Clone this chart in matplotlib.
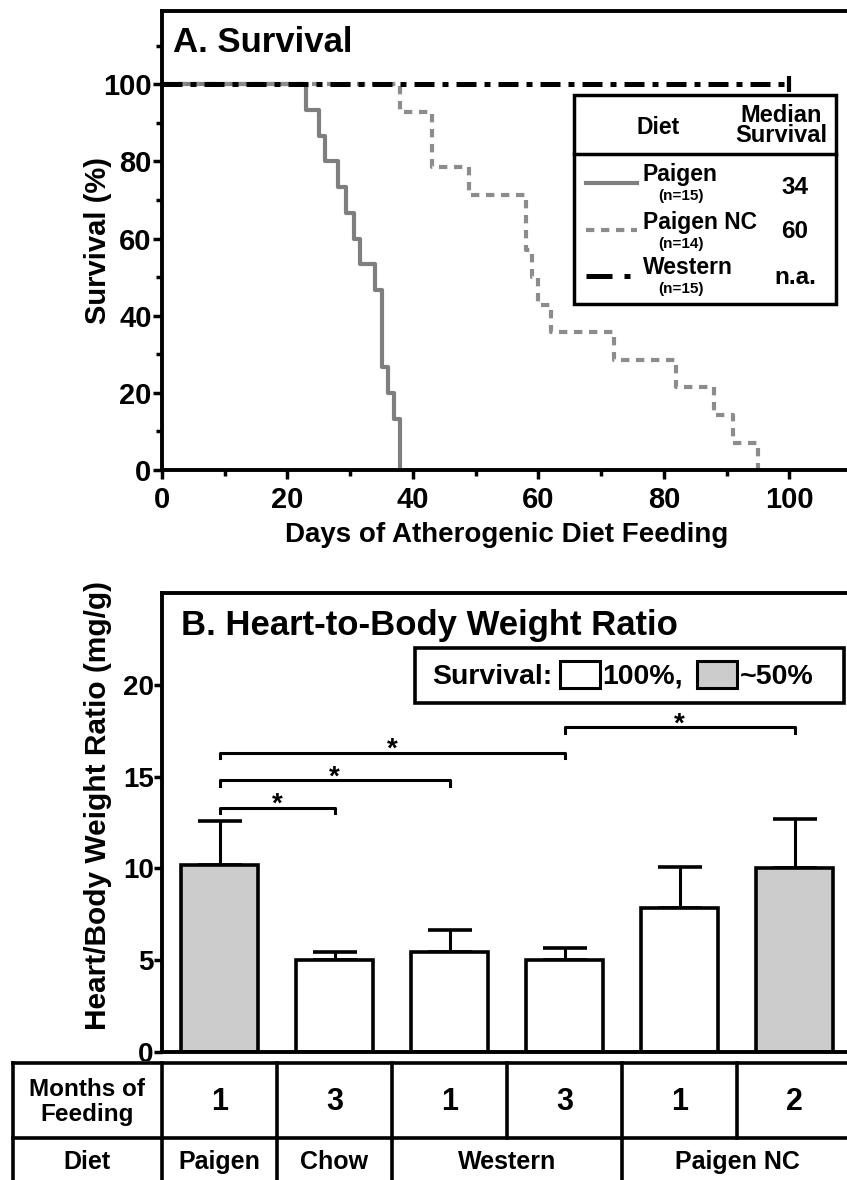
import matplotlib
matplotlib.use('Agg')
import matplotlib.pyplot as plt
from matplotlib.patches import Rectangle
from matplotlib.lines import Line2D
from matplotlib.transforms import Affine2D
import numpy as np

plt.rcParams['font.family'] = ['Liberation Sans', 'DejaVu Sans']
plt.rcParams['font.weight'] = 'bold'

# A. survival curves (step points)
paigen_days = [0, 23, 25, 26, 28, 29.3, 30.6, 31.5, 34, 35, 36, 37, 38]
paigen_surv = [100, 93.3, 86.7, 80, 73.3, 66.7, 60, 53.3, 46.7, 26.7, 20, 13.3, 0]
nc_days = [0, 38, 43, 49, 58, 59, 60, 62, 72, 82, 88, 91, 95]
nc_surv = [100, 92.9, 78.6, 71.4, 57.1, 50, 42.9, 35.7, 28.6, 21.4, 14.3, 7.1, 0]
western_days = [0, 100]
western_surv = [100, 100]
leg_names = ['Paigen', 'Paigen NC', 'Western']
leg_n = ['(n=15)', '(n=14)', '(n=15)']
leg_median = ['34', '60', 'n.a.']

# B. heart-to-body weight ratio
months = ['1', '3', '1', '3', '1', '2']
ratio = [10.2, 5.0, 5.45, 5.0, 7.85, 10.0]
sem = [2.4, 0.45, 1.2, 0.65, 2.2, 2.7]
half_survival = [True, False, False, False, False, True]
diets = ['Paigen', 'Chow', 'Western', 'Paigen NC']
diet_span = [1, 1, 2, 2]
sig_pairs = [(0, 1), (0, 2), (0, 3), (3, 5)]
sig_y = [13.3, 14.8, 16.3, 17.7]

W, H = 847, 1180
fig = plt.figure(figsize=(W / 100, H / 100), dpi=100)
# pixel coords, origin top-left
pix = Affine2D().scale(1 / W, -1 / H).translate(0, 1) + fig.transFigure


def add_ax(l, t, r, b):
    return fig.add_axes([l / W, 1 - b / H, (r - l) / W, (b - t) / H])


LW = 2.8
GRAY = '#cccccc'

# ---------------- panel A
axA = add_ax(162, 11, 852, 470)
axA.step(paigen_days, paigen_surv, where='post', color='#7f7f7f', lw=3, zorder=2)
axA.step(nc_days, nc_surv, where='post', color='#8c8c8c', lw=3, dashes=(2, 1.6), zorder=2)
axA.plot(western_days, western_surv, color='black', lw=3.6, dashes=(4, 1.6, 1.2, 1.6),
         zorder=3, clip_on=False)
axA.plot(western_days[-1], western_surv[-1], marker='|', ms=11, mew=3, color='black',
         clip_on=False, zorder=3)
axA.set_xlim(0, 110)
axA.set_ylim(0, 119)
axA.set_xticks(range(0, 101, 20))
axA.set_xticks(range(10, 111, 20), minor=True)
axA.set_yticks(range(0, 101, 20))
axA.set_yticks(range(10, 111, 20), minor=True)
axA.tick_params(which='major', length=6.5, width=2.5, labelsize=21)
axA.tick_params(axis='y', which='major', pad=1)
axA.tick_params(axis='x', which='major', pad=5)
axA.tick_params(which='minor', length=4, width=2.5)
for s in axA.spines.values():
    s.set_linewidth(LW)
axA.spines['right'].set_visible(False)
axA.set_xlabel('Days of Atherogenic Diet Feeding', fontsize=20, fontweight='bold')
axA.xaxis.label.set_va('center')
axA.xaxis.set_label_coords(0.5, -0.142)
axA.set_ylabel('Survival (%)', fontsize=21, fontweight='bold')
axA.yaxis.label.set_va('center')
axA.yaxis.set_label_coords(-0.093, 0.5)
fig.text(173, 42, 'A. Survival', transform=pix, va='center', fontsize=25)

# legend table of panel A
fig.add_artist(Rectangle((574, 95), 262, 209, transform=pix, fc='white', ec='black', lw=2.5))
fig.add_artist(Line2D([574, 836], [154, 154], transform=pix, color='black', lw=2.5))
fig.text(658, 127, 'Diet', transform=pix, ha='center', va='center', fontsize=16.5)
fig.text(781, 115, 'Median', transform=pix, ha='center', va='center', fontsize=17)
fig.text(781, 136, 'Survival', transform=pix, ha='center', va='center', fontsize=17)
row_y = [175, 223, 267]
n_y = [196, 244, 289]
med_y = [188, 232, 277]
for k in range(3):
    fig.text(643, row_y[k], leg_names[k], transform=pix, va='center', fontsize=16.5)
    fig.text(681, n_y[k], leg_n[k], transform=pix, ha='center', va='center', fontsize=11)
    fig.text(795, med_y[k], leg_median[k], transform=pix, ha='center', va='center',
             fontsize=17.5)
fig.add_artist(Line2D([586, 637], [183, 183], transform=pix, color='#7f7f7f', lw=3))
fig.add_artist(Line2D([586, 637], [230, 230], transform=pix, color='#8c8c8c', lw=3,
                      dashes=(2, 1.6)))
fig.add_artist(Line2D([586, 612], [276, 276], transform=pix, color='black', lw=3.6,
                      solid_capstyle='butt'))
fig.add_artist(Line2D([624, 630], [276, 276], transform=pix, color='black', lw=3.6,
                      solid_capstyle='butt'))

# ---------------- panel B
axB = add_ax(162, 593, 852, 1052)
x = np.arange(len(ratio))
colors = [GRAY if h else 'white' for h in half_survival]
axB.bar(x, ratio, width=0.67, color=colors, edgecolor='black', lw=2.6, zorder=2)
axB.errorbar(x, ratio, yerr=[np.zeros(len(sem)), sem], fmt='none', ecolor='black',
             elinewidth=2.2, capsize=15.5, capthick=2.6, zorder=1)
for (i, j), y in zip(sig_pairs, sig_y):
    axB.plot([i, i, j, j], [y - 0.3, y, y, y - 0.3], color='black', lw=2.2)
    axB.annotate('*', ((i + j) / 2, y), xytext=(0, 2), textcoords='offset points',
                 ha='center', va='center', fontsize=20)
axB.set_xlim(-0.5, 5.5)
axB.set_ylim(0, 25)
axB.set_xticks([])
axB.set_yticks(range(0, 21, 5))
axB.tick_params(axis='y', length=5.5, width=2.5, labelsize=20, pad=0.5)
for s in axB.spines.values():
    s.set_linewidth(LW)
axB.spines['right'].set_visible(False)
axB.set_ylabel('Heart/Body Weight Ratio (mg/g)', fontsize=21.5, fontweight='bold')
axB.yaxis.label.set_va('center')
axB.yaxis.set_label_coords(-0.093, 0.536)
fig.text(181, 625, 'B. Heart-to-Body Weight Ratio', transform=pix, va='center', fontsize=25)

# legend of panel B
fig.add_artist(Rectangle((415, 648), 429, 55, transform=pix, fc='white', ec='black', lw=2.6))
fig.text(432, 677, 'Survival:', transform=pix, va='center', fontsize=20.5)
fig.add_artist(Rectangle((560, 661), 40, 27, transform=pix, fc='white', ec='black', lw=2.2))
fig.text(602, 677, '100%,', transform=pix, va='center', fontsize=20.5)
fig.add_artist(Rectangle((697, 661), 40, 27, transform=pix, fc=GRAY, ec='black', lw=2.2))
fig.text(740, 677, '~50%', transform=pix, va='center', fontsize=20.5)

# ---------------- table under panel B (x in bar units, y in pixel rows)
tax = add_ax(0, 1061, 852, 1180)
tax.set_zorder(5)
tax.set_facecolor('white')
tax.set_xticks([])
tax.set_yticks([])
for s in tax.spines.values():
    s.set_visible(False)
x_left = -0.5 - 162 * 6 / 690
tax.set_xlim(x_left, 5.5)
tax.set_ylim(1180, 1061)
t_left = -1.8
tkw = dict(color='black', lw=2.6, clip_on=False)
tax.plot([t_left, 5.6], [1063, 1063], **tkw)
tax.plot([t_left, 5.6], [1138, 1138], **tkw)
tax.plot([t_left, t_left], [1063, 1185], **tkw)
for k in range(len(months)):
    tax.plot([k - 0.5, k - 0.5], [1063, 1138], **tkw)
    tax.text(k, 1102, months[k], ha='center', va='center', fontsize=22)
tax.text((t_left - 0.5) / 2, 1102, 'Months of\nFeeding', ha='center', va='center',
         fontsize=17.5, linespacing=1.1)
tax.text((t_left - 0.5) / 2, 1162, 'Diet', ha='center', va='center', fontsize=18)
start = 0
for name, span in zip(diets, diet_span):
    tax.plot([start - 0.5, start - 0.5], [1138, 1185], **tkw)
    tax.text(start + (span - 1) / 2, 1162, name, ha='center', va='center', fontsize=18)
    start += span

fig.savefig('out.png', dpi=100)
